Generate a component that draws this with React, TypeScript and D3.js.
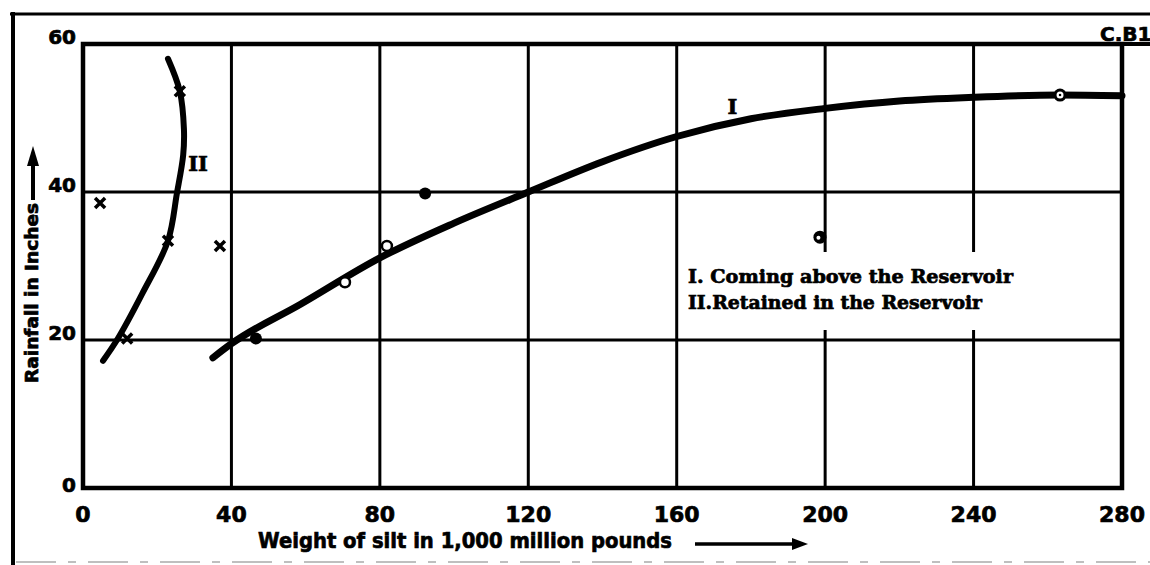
import React from "react";
import * as d3 from "d3";

// ---- data ----
const xTicks = [0, 40, 80, 120, 160, 200, 240, 280];
const yTicks = [0, 20, 40, 60];

// Curve I: silt coming above the reservoir (fitted line)
const curveIPath: [number, number][] = [
  [35, 17.6], [40, 19.5], [58.5, 24.8], [80, 31.1], [100, 35.8], [120, 40],
  [140, 44.1], [160, 47.5], [180, 49.9], [200, 51.3], [220, 52.3], [240, 52.8],
  [263, 53.1], [280, 53.0],
];
// Curve II: silt retained in the reservoir (fitted line)
const curveIIPath: [number, number][] = [
  [5.4, 17.2], [9.4, 20.2], [15.9, 26.2], [22.9, 33.4], [25.3, 39.8],
  [27.0, 45.0], [27.2, 48.5], [26.1, 53.6], [22.9, 58.0],
];
// Observed points
const openCircles: [number, number][] = [[70.6, 27.8], [81.9, 32.7]];
const ringPoints: [number, number][] = [[263.3, 53.1]];
const filledDots: [number, number][] = [[92.2, 39.8], [46.6, 20.2]];
const hollowBlob: [number, number][] = [[198.6, 33.9]];
const crossPoints: [number, number][] = [
  [11.9, 20.2], [22.9, 33.4], [26.1, 53.6], [4.6, 38.5], [36.9, 32.7],
];
const curveLabels = [
  { text: "I", x: 175, y: 51.3 },
  { text: "II", x: 31, y: 43.6 },
];
const legendLines = ["I. Coming above the Reservoir", "II.Retained in the Reservoir"];
const xTitle = "Weight of silt in 1,000 million pounds";
const yTitle = "Rainfall in Inches";
const cornerTag = "C.B1";

export default function App() {
  const W = 1150, H = 565;
  const x = d3.scaleLinear().domain([0, 280]).range([83, 1122]);
  const y = d3.scaleLinear().domain([0, 60]).range([488, 44]);
  const lineI = d3
    .line<[number, number]>()
    .x((d) => x(d[0]))
    .y((d) => y(d[1]))
    .curve(d3.curveMonotoneX);
  const lineII = d3
    .line<[number, number]>()
    .x((d) => x(d[0]))
    .y((d) => y(d[1]))
    .curve(d3.curveCatmullRom.alpha(0.5));

  const sans = "'DejaVu Sans', sans-serif";
  const serif = "'DejaVu Serif', serif";
  const heavy = { stroke: "#000", strokeWidth: 0.7 };

  return (
    <svg
      width={W}
      height={H}
      style={{ position: "absolute", left: 0, top: 0, background: "#fff" }}
    >
      <rect x={0} y={0} width={W} height={H} fill="#fff" />
      {/* outer frame */}
      <line x1={10} y1={14} x2={1150} y2={14} stroke="#000" strokeWidth={3} />
      <line x1={13} y1={12} x2={13} y2={565} stroke="#000" strokeWidth={4} />
      <line x1={16} y1={562} x2={1150} y2={562} stroke="#aaa" strokeWidth={1.5} strokeDasharray="40 12 8 12" />

      {/* grid */}
      {xTicks.slice(1, -1).map((t) => (
        <line key={"gx" + t} x1={x(t)} x2={x(t)} y1={y(60)} y2={y(0)} stroke="#000" strokeWidth={3} />
      ))}
      {yTicks.slice(1, -1).map((t) => (
        <line key={"gy" + t} x1={x(0)} x2={x(280)} y1={y(t)} y2={y(t)} stroke="#000" strokeWidth={3} />
      ))}
      {/* plot border */}
      <rect x={x(0)} y={y(60)} width={x(280) - x(0)} height={y(0) - y(60)} fill="none" stroke="#000" strokeWidth={4.5} />
      <line x1={x(280)} y1={y(60)} x2={1150} y2={y(60)} stroke="#000" strokeWidth={4} />

      {/* legend box (covers grid) */}
      <rect x={683} y={252} width={337} height={78} fill="#fff" />
      {legendLines.map((t, i) => (
        <text
          key={t}
          x={688}
          y={283 + i * 26}
          fontFamily={serif}
          fontWeight="bold"
          fontSize={19}
          textLength={i === 0 ? 325 : 294}
          lengthAdjust="spacingAndGlyphs"
          {...heavy}
        >
          {t}
        </text>
      ))}

      {/* curves */}
      <path d={lineI(curveIPath) || ""} fill="none" stroke="#000" strokeWidth={7} strokeLinecap="round" strokeLinejoin="round" />
      <path d={lineII(curveIIPath) || ""} fill="none" stroke="#000" strokeWidth={6} strokeLinecap="round" strokeLinejoin="round" />

      {/* markers */}
      {openCircles.map(([a, b], i) => (
        <circle key={"oc" + i} cx={x(a)} cy={y(b)} r={5} fill="#fff" stroke="#000" strokeWidth={2.5} />
      ))}
      {ringPoints.map(([a, b], i) => (
        <g key={"rp" + i}>
          <circle cx={x(a)} cy={y(b)} r={6.5} fill="#000" />
          <circle cx={x(a)} cy={y(b)} r={3.5} fill="#fff" />
          <circle cx={x(a)} cy={y(b)} r={1.3} fill="#000" />
        </g>
      ))}
      {filledDots.map(([a, b], i) => (
        <circle key={"fd" + i} cx={x(a)} cy={y(b)} r={6} fill="#000" />
      ))}
      {hollowBlob.map(([a, b], i) => (
        <g key={"hb" + i}>
          <circle cx={x(a)} cy={y(b)} r={6.5} fill="#000" />
          <circle cx={x(a) - 1.5} cy={y(b) + 0.5} r={2} fill="#fff" />
        </g>
      ))}
      {crossPoints.map(([a, b], i) => {
        const cx = x(a), cy = y(b), s = 5;
        return (
          <path
            key={"cp" + i}
            d={`M${cx - s},${cy - s}L${cx + s},${cy + s}M${cx - s},${cy + s}L${cx + s},${cy - s}`}
            stroke="#000"
            strokeWidth={3.5}
          />
        );
      })}

      {/* curve labels */}
      {curveLabels.map((l) => (
        <text
          key={l.text}
          x={x(l.x)}
          y={y(l.y)}
          textAnchor="middle"
          dominantBaseline="middle"
          fontFamily={serif}
          fontWeight="bold"
          fontSize={21}
          {...heavy}
        >
          {l.text}
        </text>
      ))}

      {/* tick labels */}
      {xTicks.map((t) => (
        <text key={"xt" + t} x={x(t)} y={y(0) + 34} textAnchor="middle" fontFamily={sans} fontWeight="bold" fontSize={22} {...heavy}>
          {t}
        </text>
      ))}
      {yTicks.map((t) => (
        <text key={"yt" + t} x={76} y={y(t) + (t === 0 ? 4 : 0)} textAnchor="end" fontFamily={sans} fontWeight="bold" fontSize={20} {...heavy}>
          {t}
        </text>
      ))}

      {/* axis titles */}
      <text x={258} y={548} fontFamily={sans} fontWeight="bold" fontSize={21} textLength={414} lengthAdjust="spacingAndGlyphs" {...heavy}>
        {xTitle}
      </text>
      <line x1={695} y1={544} x2={795} y2={544} stroke="#000" strokeWidth={3.5} />
      <path d="M808,544 L792,538 L792,550 Z" fill="#000" />

      <text
        transform="translate(38,293) rotate(-90)"
        textAnchor="middle"
        fontFamily={sans}
        fontWeight="bold"
        fontSize={17}
        textLength={180}
        lengthAdjust="spacingAndGlyphs"
        {...heavy}
      >
        {yTitle}
      </text>
      <line x1={33} y1={200} x2={33} y2={160} stroke="#000" strokeWidth={4} />
      <path d="M33,146 L27,166 L39,166 Z" fill="#000" />

      {/* corner tag */}
      <text x={1100} y={41} fontFamily={sans} fontWeight="bold" fontSize={20} {...heavy}>
        {cornerTag}
      </text>
    </svg>
  );
}
